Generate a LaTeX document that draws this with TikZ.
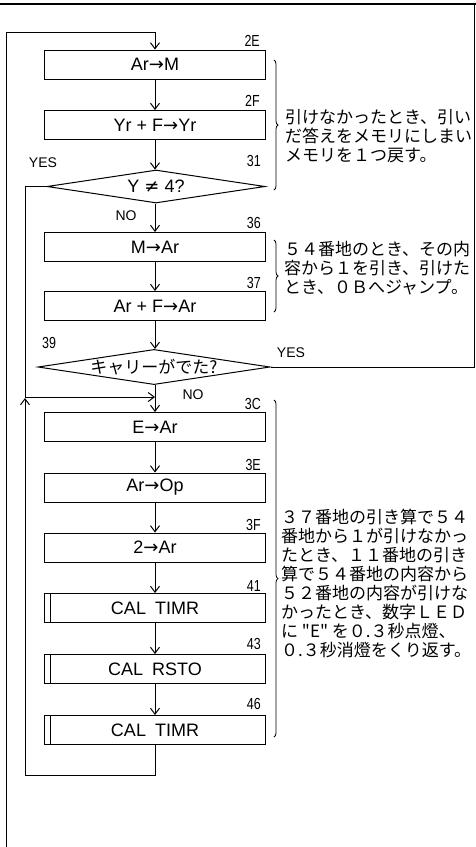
\documentclass[tikz,border=0pt]{standalone}
\usepackage{fontspec}
\setmainfont{Liberation Sans}
\newfontfamily\jpfont{Noto Sans CJK JP}
\newfontfamily\dvfont{DejaVu Sans}
\usetikzlibrary{arrows.meta,decorations.pathreplacing,shapes.geometric}
\newcommand\narrowtxt[1]{\scalebox{0.78}[1]{#1}}
\newcommand\rarr{{\dvfont\symbol{"2192}}}
\tikzset{
  x=1pt, y=-1pt,
  ln/.style={line width=1pt},
  arr/.style={ln, -{Straight Barb[length=6pt,width=9pt,line width=1pt]}},
  proc/.style={draw, ln, minimum width=221pt, minimum height=29pt, inner sep=0pt,
               font=\fontsize{18}{18}\selectfont},
  dec/.style={draw, ln, diamond, inner sep=0pt, aspect=6.6,
              minimum width=218pt, minimum height=33pt,
              font=\fontsize{18}{18}\selectfont},
  addr/.style={inner sep=0pt, anchor=south east, font=\fontsize{16}{16}\selectfont},
  yn/.style={inner sep=0pt, font=\fontsize{14}{14}\selectfont},
  note/.style={inner sep=0pt, anchor=north west, align=left,
               font=\jpfont\fontsize{17}{19}\selectfont},
  brc/.style={line width=0.8pt, decorate, decoration={brace, amplitude=4pt}}
}
\begin{document}
\begin{tikzpicture}
\useasboundingbox (0,0) rectangle (476,847);
% page rule
\draw[line width=1.3pt] (0,4) -- (476,4);

% boxes
\node[proc] (b1) at (155,64.5) {Ar\rarr M};
\node[proc] (b2) at (155,125) {Yr + F\rarr Yr};
\node[dec]  (d1) at (156,186.5) {Y {\dvfont ≠} 4?};
\node[proc] (b3) at (155,247) {M\rarr Ar};
\node[proc] (b4) at (155,306) {Ar + F\rarr Ar};
\node[dec, minimum width=222pt] (d2) at (154,367) {\jpfont\fontsize{17}{17}\selectfont キャリーがでた?};
\node[proc] (b5) at (155,427) {E\rarr Ar};
\node[proc] (b6) at (155,487.5) {Ar\rarr Op};
\node[proc] (b7) at (155,547.5) {2\rarr Ar};
\node[proc] (b8) at (155,608) {CAL\hspace{9pt}TIMR};
\node[proc] (b9) at (155,669) {CAL\hspace{9pt}RSTO};
\node[proc] (b10) at (155,730) {CAL\hspace{9pt}TIMR};
\foreach \b in {b8,b9,b10}
  \draw[ln] ([xshift=6pt]\b.north west) -- ([xshift=6pt]\b.south west);

% address labels
\node[addr] at (260,47) {\narrowtxt{2E}};
\node[addr] at (260,107) {\narrowtxt{2F}};
\node[addr] at (261,167) {\narrowtxt{31}};
\node[addr] at (261,229) {\narrowtxt{36}};
\node[addr] at (261,289) {\narrowtxt{37}};
\node[addr, anchor=south west] at (42,349) {\narrowtxt{39}};
\node[addr] at (261,410) {\narrowtxt{3C}};
\node[addr] at (261,471) {\narrowtxt{3E}};
\node[addr] at (261,531) {\narrowtxt{3F}};
\node[addr] at (261,592) {\narrowtxt{41}};
\node[addr] at (261,650) {\narrowtxt{43}};
\node[addr] at (261,710) {\narrowtxt{46}};

% yes/no labels
\node[yn] (yes1) at (43,163) {YES};
\node[yn] (no1) at (126,215.5) {NO};
\node[yn] (yes2) at (291,353) {YES};
\node[yn] (no2) at (193,395) {NO};

% main flow
\draw[arr] (b1) -- (b2);
\draw[arr] (b2) -- (d1.north -| b2);
\draw[arr] (d1.south -| b2) -- (b3);
\draw[arr] (b3) -- (b4);
\draw[arr] (b4) -- (d2.north -| b4);
\draw[arr] (d2.south -| b4) -- (b5);
\draw[arr] (b5) -- (b6);
\draw[arr] (b6) -- (b7);
\draw[arr] (b7) -- (b8);
\draw[arr] (b8) -- (b9);
\draw[arr] (b9) -- (b10);

% entry from left
\coordinate (entry) at (6,847);
\draw[arr] (entry) |- ([yshift=17pt]b1.north) -- (b1.north);

% YES of 31 to merge
\coordinate (ycorner) at (25,397);
\coordinate (merge) at (155,397);
\draw[arr] (d1.west) -| (ycorner) -- (merge);

% loop back
\coordinate (loopend) at (25,398);
\draw[arr] (b10.south) -- ++(0,30) -| (loopend);

% YES of 39 to right edge
\coordinate (exit) at (474,4);
\draw[ln] (d2.east) -| (exit);

% braces
\draw[brc] (274,60) -- (274,190);
\draw[brc] (274,240) -- (274,312);
\draw[brc, decoration={brace, amplitude=4pt, aspect=0.53}] (274,400) -- (274,737);

% notes
\node[note] (n1) at (285,109) {引けなかったとき、引い\\だ答えをメモリにしまい\\メモリを１つ戻す。};
\node[note] (n2) at (284,241.5) {５４番地のとき、その内\\容から１を引き、引けた\\とき、０Ｂへジャンプ。};
\node[note] (n3) at (281,508.5) {３７番地の引き算で５４\\番地から１が引けなかっ\\たとき、１１番地の引き\\算で５４番地の内容から\\５２番地の内容が引けな\\かったとき、数字ＬＥＤ\\に "E" を０.３秒点燈、\\０.３秒消燈をくり返す。};
\end{tikzpicture}
\end{document}
